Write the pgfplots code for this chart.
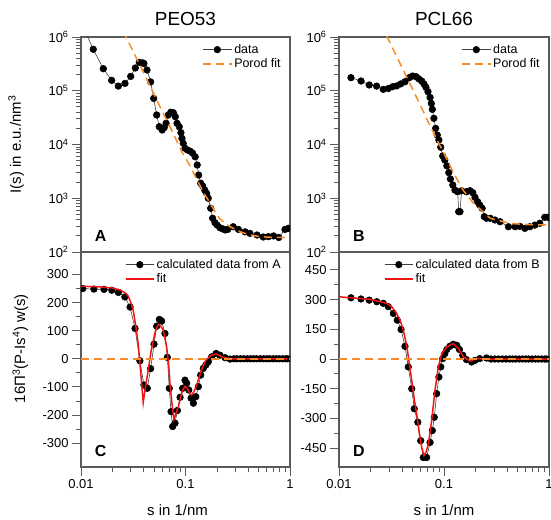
\documentclass[border=0pt]{standalone}
\usepackage{pgfplots}
\pgfplotsset{compat=1.18}
\usepackage{fontspec}
\setmainfont{Liberation Sans}
\definecolor{porod}{RGB}{250,140,40}
\definecolor{fitred}{RGB}{240,20,20}
\definecolor{frame}{RGB}{90,90,90}
\tikzset{
  datastyle/.style={black!75, line width=0.6bp, mark=*, mark size=3.3bp, mark options={solid, fill=black, draw=black}},
  porodstyle/.style={porod, dash pattern=on 8bp off 5bp, line width=1.5bp},
  fitstyle/.style={fitred, line width=1.5bp},
  letter/.style={anchor=base west, font=\bfseries\fontsize{16}{16}\selectfont},
}
\pgfplotsset{
  every axis/.append style={
    scale only axis, xmin=0.01, xmax=1,
    axis line style={draw=frame, line width=1.1bp},
    tick style={draw=frame, line width=0.9bp},
    tick align=outside, xtick pos=left, ytick pos=left,
    major tick length=9bp, minor tick length=5bp,
    tick label style={font=\fontsize{13}{15}\selectfont},
    label style={font=\fontsize{15}{17}\selectfont},
    clip marker paths=true,
    legend style={draw=none, fill=none, font=\fontsize{12.5}{15}\selectfont, at={(0.98,0.985)}, anchor=north east},
    legend cell align=left,
    title style={font=\fontsize{19}{21}\selectfont, at={(0.5,1)}, anchor=base, yshift=6bp},
    ylabel style={at={(axis description cs:-0.31,0.5)}, anchor=center},
  },
  legend image code/.code={\draw[mark repeat=2,mark phase=2,#1] plot coordinates {(0cm,0cm) (0.5cm,0cm) (1cm,0cm)};},
}
\begin{document}
\begin{tikzpicture}
\useasboundingbox (0,0) rectangle (551bp,520bp);
% ---------------- A ----------------
\begin{axis}[xmode=log, ymode=log, ymin=1e2, ymax=1e6, height=215bp,
  xtick=\empty, xminorticks=false,
  ytick={1e2,1e3,1e4,1e5,1e6},
  yticklabels={10\textsuperscript{2},10\textsuperscript{3},10\textsuperscript{4},10\textsuperscript{5},10\textsuperscript{6}},
  at={(81bp,268bp)}, anchor=south west, width=209bp,
  title=PEO53, ylabel={I(s) in e.u./nm\textsuperscript{3}}]
\addplot[datastyle] table {
0.0100 1.9e6
0.0131 5.9e5
0.01635 2.57e5
0.01966 1.56e5
0.02276 1.22e5
0.02636 1.37e5
0.0299 1.85e5
0.0331 2.65e5
0.0361 3.38e5
0.0390 3.3e5
0.0400 3.2e5
0.0428 2.43e5
0.0464 1.46e5
0.0496 7.2e4
0.0530 3.54e4
0.0561 2.14e4
0.0598 1.86e4
0.0626 2.06e4
0.0652 2.48e4
0.0685 3.54e4
0.0723 3.98e4
0.0765 3.9e4
0.0799 3.29e4
0.0830 2.48e4
0.0872 2.14e4
0.0904 1.66e4
0.0925 1.3e4
0.0952 1.05e4
0.0989 8.5e3
0.1043 7.9e3
0.1110 7.5e3
0.1170 6.9e3
0.1238 5.9e3
0.1295 4.15e3
0.1336 2.7e3
0.1398 1.9e3
0.1460 1.69e3
0.1528 1.42e3
0.1594 1.23e3
0.1650 1.0e3
0.1741 650
0.1818 424
0.1915 351
0.2013 316
0.2140 282
0.2267 270
0.2396 257
0.2537 263
0.2862 295
0.3211 263
0.3715 237
0.4138 222
0.4842 207
0.5545 190
0.6215 193
0.6965 199
0.7813 186
0.8960 263
0.9630 276
};
\addlegendentry{data}
\addplot[porodstyle, no markers] table {
0.0255 1.3e6
0.0270 1.0e6
0.0300 6.6e5
0.0400 2.1e5
0.0500 8.6e4
0.0600 4.1e4
0.0764 1.61e4
0.0921 7.35e3
0.1104 4.0e3
0.1330 1.95e3
0.1535 1.15e3
0.1710 830
0.1915 565
0.2140 410
0.2670 295
0.3330 238
0.4140 207
0.5180 193
0.6450 188
0.8300 186
0.9200 185
};
\addlegendentry{Porod fit}
\node[letter] at (axis description cs:0.05,0.05) {A};
\end{axis}
% ---------------- B ----------------
\begin{axis}[xmode=log, ymode=log, ymin=1e2, ymax=1e6, height=215bp,
  xtick=\empty, xminorticks=false,
  ytick={1e2,1e3,1e4,1e5,1e6},
  yticklabels={10\textsuperscript{2},10\textsuperscript{3},10\textsuperscript{4},10\textsuperscript{5},10\textsuperscript{6}},
  at={(339bp,268bp)}, anchor=south west, width=210bp,
  title=PCL66]
\addplot[datastyle] table {
0.0130 1.75e5
0.0162 1.52e5
0.0194 1.28e5
0.0228 1.22e5
0.0264 1.06e5
0.0295 1.10e5
0.0324 1.19e5
0.0354 1.23e5
0.0387 1.34e5
0.0425 1.47e5
0.0467 1.75e5
0.0503 1.88e5
0.0541 1.83e5
0.0574 1.67e5
0.0613 1.52e5
0.0644 1.34e5
0.0673 1.16e5
0.0704 9.6e4
0.0737 7.5e4
0.0758 5.8e4
0.0775 4.5e4
0.0801 3.07e4
0.0833 2.0e4
0.0863 1.5e4
0.0894 1.21e4
0.0931 8.9e3
0.0972 6.1e3
0.1017 5.15e3
0.1064 4.0e3
0.1111 3.0e3
0.1151 2.28e3
0.1213 1.76e3
0.1271 1.42e3
0.1350 1.32e3
0.1380 562
0.1420 562
0.1471 1.38e3
0.1635 1.32e3
0.1769 1.38e3
0.1881 1.27e3
0.1974 1.04e3
0.2087 863
0.2188 748
0.2309 650
0.2421 454
0.2541 424
0.2748 424
0.3053 394
0.3415 366
0.4112 295
0.4755 295
0.5279 300
0.5888 275
0.6568 295
0.7326 316
0.8170 342
0.9114 442
0.9800 442
};
\addlegendentry{data}
\addplot[porodstyle, no markers] table {
0.0285 1.05e6
0.0306 7.8e5
0.0400 2.66e5
0.0500 1.09e5
0.0600 5.25e4
0.0708 2.6e4
0.0852 1.25e4
0.1026 6.2e3
0.1228 3.0e3
0.1525 1.4e3
0.1900 820
0.2748 425
0.4260 340
0.6000 325
0.8200 320
0.9500 318
};
\addlegendentry{Porod fit}
\node[letter] at (axis description cs:0.05,0.05) {B};
\end{axis}
% ---------------- C ----------------
\begin{axis}[xmode=log, height=215bp,
  xtick={0.01,0.1,1}, xticklabels={0.01,0.1,1},
  minor xtick={0.02,0.03,0.04,0.05,0.06,0.07,0.08,0.09,0.2,0.3,0.4,0.5,0.6,0.7,0.8,0.9},
  xlabel={s in 1/nm},
  xlabel style={at={(axis description cs:0.462,0)}, anchor=center, yshift=-43bp},
  minor y tick num=1,
  at={(81bp,53bp)}, anchor=south west, width=209bp,
  ymin=-385, ymax=380, ytick={-300,-200,-100,0,100,200,300},
  yticklabels={-300,-200,-100,0,100,200,300},
  ylabel={16Π\textsuperscript{3}(P-Is\textsuperscript{4}) w(s)},
  ylabel style={at={(axis description cs:-0.29,0.55)}}]
\addplot[datastyle] table {
0.0104 250
0.0133 248
0.0166 247
0.0197 244
0.0228 236
0.0263 220
0.0295 184
0.0329 108
0.0366 -7
0.0400 -93
0.0431 -105
0.0464 -35
0.0500 52
0.0530 116
0.0562 140
0.0575 137
0.0591 134
0.0636 90
0.0670 5
0.0700 -105
0.0727 -188
0.0754 -241
0.0794 -229
0.0836 -184
0.0887 -137
0.0939 -105
0.0989 -76
0.1026 -87
0.1075 -111
0.1131 -140
0.1190 -158
0.1255 -135
0.1328 -99
0.1398 -58
0.1480 -34
0.1568 -22
0.1650 -11
0.1780 7
0.1960 19
0.2135 13
0.2390 4
0.2670 -1
0.2900 0
0.3100 0
0.3350 0
0.3600 0
0.3900 0
0.4200 0
0.4500 0
0.4800 0
0.5200 0
0.5600 0
0.6000 0
0.6400 0
0.6900 0
0.7400 0
0.7900 0
0.8500 0
0.9100 0
0.9500 0
};
\addlegendentry{calculated data from A}
\addplot[fitstyle, no markers] table {
0.0100 258
0.0150 256
0.0200 252
0.0240 244
0.0270 232
0.0284 222
0.0300 200
0.0316 173
0.0335 115
0.0354 49
0.0375 -60
0.0394 -156
0.0410 -110
0.0440 -40
0.0470 30
0.0493 66
0.0520 105
0.0549 122
0.0580 116
0.0614 102
0.0660 43
0.0690 -20
0.0710 -87
0.0745 -165
0.0776 -217
0.0810 -195
0.0855 -170
0.0900 -135
0.0940 -111
0.0989 -98
0.1040 -105
0.1100 -125
0.1145 -129
0.1200 -118
0.1280 -93
0.1420 -40
0.1570 -5
0.1750 12
0.1960 17
0.2300 5
0.2700 0
0.3000 0
0.9500 0
};
\addlegendentry{fit}
\addplot[porodstyle, no markers, forget plot] coordinates {(0.01,0) (1,0)};
\node[letter] at (axis description cs:0.05,0.05) {C};
\end{axis}
% ---------------- D ----------------
\begin{axis}[xmode=log, height=215bp,
  xtick={0.01,0.1,1}, xticklabels={0.01,0.1,1},
  minor xtick={0.02,0.03,0.04,0.05,0.06,0.07,0.08,0.09,0.2,0.3,0.4,0.5,0.6,0.7,0.8,0.9},
  xlabel={s in 1/nm},
  xlabel style={at={(axis description cs:0.5,0)}, anchor=center, yshift=-43bp},
  minor y tick num=1,
  at={(339bp,53bp)}, anchor=south west, width=210bp,
  ymin=-545, ymax=540, ytick={-450,-300,-150,0,150,300,450},
  yticklabels={-450,-300,-150,0,150,300,450}]
\addplot[datastyle] table {
0.0130 309
0.0162 303
0.0194 297
0.0229 289
0.0264 281
0.0295 264
0.0329 230
0.0359 196
0.0390 149
0.0425 64
0.0457 -40
0.0493 -150
0.0521 -251
0.0563 -319
0.0600 -412
0.0635 -497
0.0683 -497
0.0737 -421
0.0774 -361
0.0808 -294
0.0851 -175
0.0894 -91
0.0931 -40
0.0972 2
0.1017 27
0.1064 48
0.1137 64
0.1227 74
0.1323 69
0.1403 48
0.1509 19
0.1637 -3
0.1834 -15
0.1974 -7
0.2188 2
0.2540 5
0.2800 0
0.3050 0
0.3300 0
0.3600 0
0.3900 0
0.4200 0
0.4500 0
0.4800 0
0.5200 0
0.5600 0
0.6000 0
0.6400 0
0.6900 0
0.7400 0
0.7900 0
0.8500 0
0.9100 0
0.9500 0
};
\addlegendentry{calculated data from B}
\addplot[fitstyle, no markers] table {
0.0100 314
0.0197 301
0.0285 281
0.0320 262
0.0354 230
0.0385 190
0.0410 145
0.0430 95
0.0448 44
0.0470 -30
0.0493 -108
0.0520 -200
0.0549 -277
0.0580 -370
0.0613 -446
0.0644 -488
0.0675 -470
0.0710 -429
0.0763 -311
0.0820 -159
0.0883 -41
0.0951 27
0.1064 61
0.1227 78
0.1374 53
0.1533 10
0.1769 -10
0.2050 2
0.2500 0
0.9500 0
};
\addlegendentry{fit}
\addplot[porodstyle, no markers, forget plot] coordinates {(0.01,0) (1,0)};
\node[letter] at (axis description cs:0.05,0.05) {D};
\end{axis}
\end{tikzpicture}
\end{document}
